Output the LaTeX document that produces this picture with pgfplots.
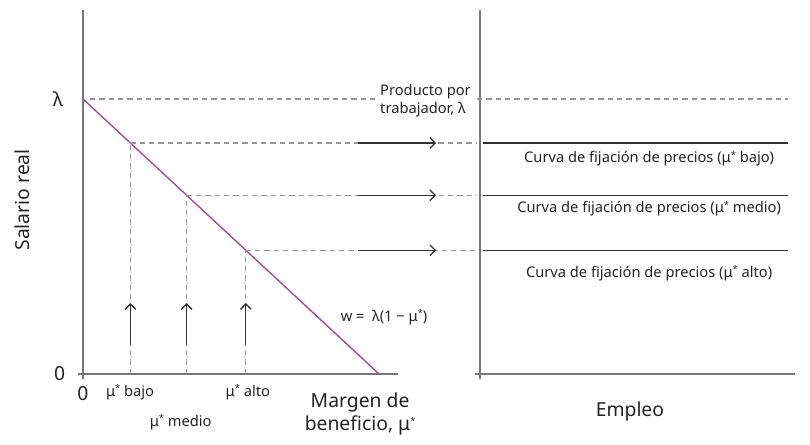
\documentclass[border=0pt]{standalone}
\usepackage{pgfplots}
\pgfplotsset{compat=1.18}
\usepackage{fontspec}
\setmainfont{Noto Sans}
\usetikzlibrary{arrows.meta}

\definecolor{axisgray}{RGB}{120,120,120}
\definecolor{dashgray}{RGB}{150,150,150}
\definecolor{curvepurple}{RGB}{165,65,160}
\definecolor{darkline}{RGB}{50,50,50}
\definecolor{textgray}{RGB}{35,35,35}

\newcommand{\lblsmall}{\fontsize{11}{13.5}\selectfont}
\newcommand{\lblbig}{\fontsize{14.5}{17.5}\selectfont}
\newcommand{\mus}{μ\raisebox{0.55ex}{\fontsize{7}{7}\selectfont *}}

\pgfplotsset{
  panel/.style={
    scale only axis,
    width=236.25pt, height=273pt,
    anchor=south west,
    ymin=0, ymax=1.3236,
    axis x line=bottom, axis y line=left,
    axis line style={-, axisgray, line width=1pt},
    tick style={axisgray, line width=1pt},
    tick align=outside,
    major tick length=3.75pt,
    clip=false,
    ticklabel style={font=\lblbig, text=textgray},
  },
  guide/.style={dashgray, line width=0.8pt, dash pattern=on 4pt off 3pt},
  shift/.style={darkline, line width=1pt, -{Straight Barb[length=4pt, width=8pt]}},
}

\begin{document}
\begin{tikzpicture}[every node/.style={text=textgray}]
\path[use as bounding box] (0,0) rectangle (607.5pt,333pt);

% left panel: wage against markup
\begin{axis}[panel, at={(62.25pt,52.5pt)},
  xmin=0, xmax=1.064,
  xtick={0}, xticklabels={0},
  xticklabel style={yshift=-2pt},
  ytick={0}, yticklabels={0},
  extra y ticks={1}, extra y tick labels={λ},
  extra y tick style={major tick length=0pt, yticklabel style={xshift=-5.5pt}},
  yticklabel style={xshift=-6pt},
]
\addplot[curvepurple, line width=1pt] coordinates {(0,1) (1,0)};

% lambda level, with a gap for its label
\addplot[guide] coordinates {(0.024,1) (0.993,1)};

% markup levels: low, medium, high
\addplot[guide] coordinates {(0.16,0.84) (1.33,0.84)};
\addplot[guide] coordinates {(0.35,0.65) (1.33,0.65)};
\addplot[guide] coordinates {(0.55,0.45) (1.33,0.45)};
\addplot[guide] coordinates {(0.16,0) (0.16,0.84)};
\addplot[guide] coordinates {(0.35,0) (0.35,0.65)};
\addplot[guide] coordinates {(0.55,0) (0.55,0.45)};

\addplot[shift] coordinates {(0.16,0.105) (0.16,0.258)};
\addplot[shift] coordinates {(0.35,0.105) (0.35,0.258)};
\addplot[shift] coordinates {(0.55,0.105) (0.55,0.258)};
\addplot[shift] coordinates {(0.929,0.84) (1.193,0.84)};
\addplot[shift] coordinates {(0.929,0.65) (1.193,0.65)};
\addplot[shift] coordinates {(0.929,0.45) (1.193,0.45)};

\node[font=\lblsmall] at (axis cs:0.159,-0.066) {\mus{} bajo};
\node[font=\lblsmall] at (axis cs:0.330,-0.175) {\mus{} medio};
\node[font=\lblsmall] at (axis cs:0.557,-0.066) {\mus{} alto};
\node[font=\lblbig, align=center] at (axis cs:0.936,-0.145) {Margen de\\beneficio, \mus};
\node[font=\lblbig, rotate=90] at (axis cs:-0.206,0.633) {Salario real};
\node[font=\lblsmall] at (axis cs:1.017,0.207) {w =\ \ λ(1 − \mus)};
\node[font=\lblsmall, align=left, anchor=west, inner sep=0pt] at (axis cs:1.003,0.993) {Producto por\\trabajador, λ};
\end{axis}

% right panel: wage against employment
\begin{axis}[panel, at={(360pt,52.5pt)},
  xmin=0, xmax=1,
  xtick={0}, xticklabels={},
  ytick={0}, yticklabels={},
]
\addplot[guide] coordinates {(-0.01,1) (0.978,1)};
\addplot[darkline, line width=1pt] coordinates {(0.01,0.84) (0.978,0.84)};
\addplot[darkline, line width=1pt] coordinates {(0.01,0.65) (0.978,0.65)};
\addplot[darkline, line width=1pt] coordinates {(0.01,0.45) (0.978,0.45)};

\node[font=\lblsmall] at (axis cs:0.537,0.782) {Curva de fijación de precios (\mus{} bajo)};
\node[font=\lblsmall] at (axis cs:0.537,0.600) {Curva de fijación de precios (\mus{} medio)};
\node[font=\lblsmall] at (axis cs:0.537,0.367) {Curva de fijación de precios (\mus{} alto)};
\node[font=\lblbig] at (axis cs:0.476,-0.135) {Empleo};
\end{axis}
\end{tikzpicture}
\end{document}
